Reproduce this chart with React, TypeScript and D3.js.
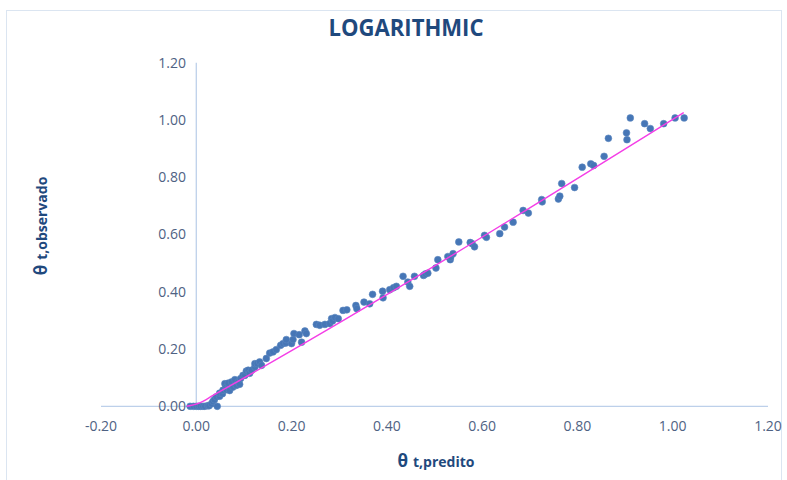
import React from "react";
import * as d3 from "d3";

// Predicted vs. observed moisture ratio (logarithmic model)
const predicted = [
  -0.013, -0.006, 0.0, 0.005, 0.009, 0.014, 0.018, 0.024, 0.027, 0.032, 0.035, 0.038, 0.044,
  0.042, 0.049, 0.049, 0.055, 0.056, 0.06, 0.062, 0.063, 0.067, 0.07, 0.074, 0.077, 0.081,
  0.084, 0.088, 0.091, 0.093, 0.098, 0.102, 0.105, 0.109, 0.112, 0.116, 0.123, 0.123, 0.128,
  0.133, 0.137, 0.147, 0.154, 0.161, 0.168, 0.177, 0.182, 0.188, 0.189, 0.2, 0.203, 0.205,
  0.216, 0.221, 0.228, 0.231, 0.252, 0.259, 0.27, 0.28, 0.284, 0.286, 0.291, 0.298, 0.308,
  0.316, 0.335, 0.337, 0.352, 0.364, 0.37, 0.391, 0.392, 0.406, 0.414, 0.42, 0.434, 0.444,
  0.448, 0.458, 0.477, 0.481, 0.486, 0.503, 0.507, 0.528, 0.533, 0.534, 0.539, 0.551, 0.575,
  0.579, 0.584, 0.605, 0.609, 0.637, 0.647, 0.665, 0.686, 0.697, 0.725, 0.726, 0.76, 0.763,
  0.767, 0.794, 0.81, 0.828, 0.834, 0.856, 0.865, 0.903, 0.904, 0.911, 0.941, 0.953, 0.981,
  1.005, 1.024,
];
const observed = [
  0.0, 0.0, 0.0, 0.0, 0.0, 0.0, 0.0, 0.002, 0.002, 0.009, 0.017, 0.023, 0.0,
  0.033, 0.035, 0.046, 0.044, 0.056, 0.079, 0.065, 0.058, 0.081, 0.055, 0.085, 0.067, 0.093,
  0.073, 0.085, 0.077, 0.097, 0.108, 0.108, 0.123, 0.126, 0.115, 0.126, 0.137, 0.149, 0.149,
  0.155, 0.143, 0.167, 0.186, 0.19, 0.198, 0.213, 0.219, 0.221, 0.233, 0.219, 0.233, 0.254,
  0.25, 0.224, 0.263, 0.254, 0.286, 0.283, 0.286, 0.289, 0.306, 0.298, 0.31, 0.306, 0.335,
  0.337, 0.352, 0.341, 0.364, 0.358, 0.391, 0.402, 0.379, 0.407, 0.414, 0.419, 0.454, 0.434,
  0.419, 0.454, 0.457, 0.462, 0.465, 0.483, 0.512, 0.523, 0.512, 0.521, 0.533, 0.574, 0.572,
  0.568, 0.557, 0.597, 0.59, 0.603, 0.626, 0.643, 0.684, 0.675, 0.722, 0.714, 0.724, 0.734,
  0.778, 0.764, 0.835, 0.847, 0.841, 0.873, 0.936, 0.955, 0.931, 1.007, 0.987, 0.97, 0.987,
  1.007, 1.007,
];

// Fitted model curve
const fitX = [-0.02, 0.007, 0.035, 1.023];
const fitY = [0.0, 0.012, 0.038, 1.026];

const xTicks = [-0.2, 0, 0.2, 0.4, 0.6, 0.8, 1.0, 1.2];
const yTicks = [0, 0.2, 0.4, 0.6, 0.8, 1.0, 1.2];

const chartTitle = "LOGARITHMIC";
const xTitle = "t,predito";
const yTitle = "t,observado";

export default function App() {
  const W = 787;
  const H = 480;
  const x = d3.scaleLinear().domain([-0.2, 1.2]).range([101, 768]);
  const y = d3.scaleLinear().domain([0, 1.2]).range([406.3, 62.7]);

  const points = predicted.map((p, i) => ({ p, o: observed[i] }));
  const fit = fitX.map((v, i) => [v, fitY[i]] as [number, number]);
  const line = d3
    .line<[number, number]>()
    .x((d) => x(d[0]))
    .y((d) => y(d[1]))
    .curve(d3.curveMonotoneX);

  const tickColor = "#4f6283";
  const titleColor = "#1f497d";
  const axisColor = "#bdd0ea";

  return (
    <svg
      width={W}
      height={H}
      style={{ position: "absolute", left: 0, top: 0, background: "#fff" }}
    >
      <rect x={6.5} y={10.5} width={775} height={470} fill="#fff" stroke="#dbe5f1" />
      <text
        x={406}
        y={36}
        textAnchor="middle"
        fontFamily="'Open Sans', sans-serif"
        fontWeight={700}
        fontSize={23}
        fill={titleColor}
        textLength={155}
        lengthAdjust="spacingAndGlyphs"
      >
        {chartTitle}
      </text>

      {/* axes */}
      <line x1={x(-0.2)} x2={x(1.2)} y1={y(0)} y2={y(0)} stroke={axisColor} strokeWidth={1.3} />
      <line x1={x(0)} x2={x(0)} y1={y(0)} y2={y(1.2)} stroke={axisColor} strokeWidth={1.3} />

      {yTicks.map((t) => (
        <text
          key={"y" + t}
          x={186}
          y={y(t)}
          dy="0.35em"
          textAnchor="end"
          fontFamily="'Open Sans', sans-serif"
          fontSize={14}
          fill={tickColor}
        >
          {t.toFixed(2)}
        </text>
      ))}
      {xTicks.map((t) => (
        <text
          key={"x" + t}
          x={x(t)}
          y={426}
          dy="0.35em"
          textAnchor="middle"
          fontFamily="'Open Sans', sans-serif"
          fontSize={14}
          fill={tickColor}
        >
          {t.toFixed(2)}
        </text>
      ))}

      {/* observations */}
      {points.map((d, i) => (
        <circle key={i} cx={x(d.p)} cy={y(d.o)} r={3.4} fill="#4676b6" stroke="#5a86c0" strokeWidth={0.6} />
      ))}

      {/* model */}
      <path d={line(fit) || ""} fill="none" stroke="#f43ee6" strokeWidth={1.4} />

      {/* axis titles */}
      <text
        x={436}
        y={467}
        textAnchor="middle"
        fontFamily="'Open Sans', sans-serif"
        fontWeight={700}
        fill={titleColor}
      >
        <tspan fontSize={17}>θ</tspan>
        <tspan fontSize={14} dx={5}>{xTitle}</tspan>
      </text>
      <text
        transform={`translate(47, 226) rotate(-90)`}
        textAnchor="middle"
        fontFamily="'Open Sans', sans-serif"
        fontWeight={700}
        fill={titleColor}
      >
        <tspan fontSize={17}>θ</tspan>
        <tspan fontSize={14} dx={5}>{yTitle}</tspan>
      </text>
    </svg>
  );
}
